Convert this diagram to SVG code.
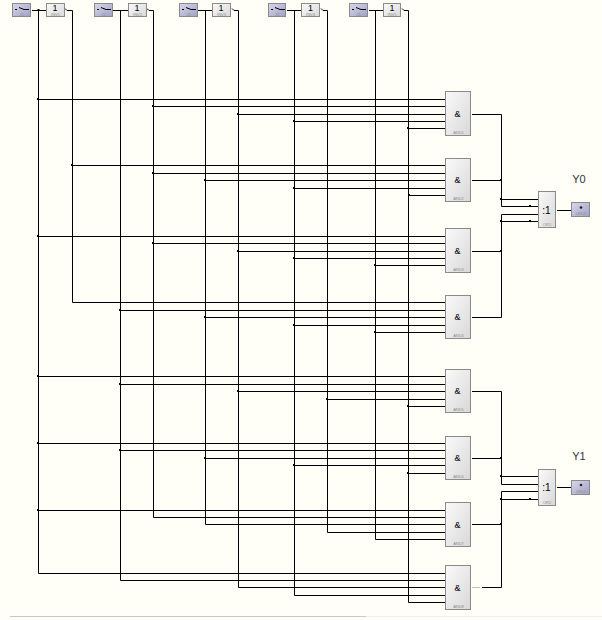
<svg xmlns="http://www.w3.org/2000/svg" width="602" height="620" viewBox="0 0 602 620">
<style>
.w{fill:none;stroke:#000;stroke-width:1}
.d{fill:#000}
.b{stroke:#8a8a8a;stroke-width:1}
.g{fill:url(#gate)}
.s{fill:url(#sw)}
.t{font-family:"Liberation Sans",Arial,sans-serif;fill:#000;text-anchor:middle}
.m{font-size:9px}
.i{font-size:9px}
.o{font-size:10px}
.n{font-family:"Liberation Sans",Arial,sans-serif;font-size:4px;fill:#8c8c8c;text-anchor:middle}
.y{font-size:11px;fill:#333}
.k{fill:none;stroke:#000;stroke-width:1}
</style>
<defs>
<linearGradient id="gate" x1="0" y1="0" x2="1" y2="1"><stop offset="0" stop-color="#fafafa"/><stop offset="1" stop-color="#d8d8d8"/></linearGradient>
<linearGradient id="sw" x1="0" y1="0" x2="1" y2="1"><stop offset="0" stop-color="#d8d8ea"/><stop offset="1" stop-color="#a0a0c6"/></linearGradient>
<rect id="j" class="d" x="-1" y="-1.5" width="2" height="2"/>
</defs>
<rect width="602" height="620" fill="#fffff8"/>
<rect x="10" y="616" width="356" height="1" fill="#c8c8c8"/>
<rect x="366" y="616" width="236" height="1" fill="#f0f0ea"/>
<g id="connectors">
<path id="net-a" class="w" d="M32 10.5H46M38.5 10.5V573.5H445M38.5 99.500H445M38.5 236.5H445M38.5 376.5H445M38.5 443.5H445M38.5 510.5H445"/>
<path id="net-na" class="w" d="M65 8.5L67 10.5H72.5V302.5H445M72.5 165.5H445"/>
<path id="net-b" class="w" d="M113 10.5H128M120.5 10.5V580.5H445M120.5 310.5H445M120.5 384.5H445M120.5 450.5H445"/>
<path id="net-nb" class="w" d="M147 8.5L149 10.5H153.5V517.5H445M153.5 106.5H445M153.5 173.5H445M153.5 243.5H445"/>
<path id="net-c" class="w" d="M198 10.5H212M205.5 10.5V524.5H445M205.5 180.5H445M205.5 317.5H445M205.5 458.5H445"/>
<path id="net-nc" class="w" d="M232 8.5L234 10.5H238.5V587.5H445M238.5 114.5H445M238.5 251.5H445M238.5 391.5H445"/>
<path id="net-d" class="w" d="M287 10.5H301M294.5 10.5V595.5H445M294.5 121.5H445M294.5 188.5H445M294.5 258.5H445M294.5 325.5H445M294.5 465.5H445"/>
<path id="net-nd" class="w" d="M321 8.5L323 10.5H327.5V532.5H445M327.5 399.5H445"/>
<path id="net-e" class="w" d="M369 10.5H383M375.5 10.5V539.5H445M375.5 265.5H445M375.5 332.5H445"/>
<path id="net-ne" class="w" d="M402 8.5L404 10.5H408.5V602.5H445M408.5 128.5H445M408.5 195.5H445M408.5 406.5H445M408.5 473.5H445"/>
<path id="out-y0" class="w" d="M472 114.5H501.5V206.5H538M472 180.5H501.5M501.5 199.5H538M501.5 214.5H538M501.5 214.5V317.5H472M472 251.5H501.5M501.5 221.5H538M557 210.5H571"/>
<path id="out-y1" class="w" d="M472 391.5H501.5V484.5H538M472 458.5H501.5M501.5 476.5H538M501.5 491.5H538M501.5 491.5V587.5H482M472 524.5H501.5M501.5 499.5H538M557 487.5H571"/>
<path id="out-and8-stub" d="M472 587.5H480" fill="none" stroke="#c0c0c0" stroke-width="1"/>
<g id="junctions">
<use href="#j" x="38.5" y="10.5"/><use href="#j" x="38" y="99.5"/><use href="#j" x="153" y="106.5"/><use href="#j" x="238" y="114.5"/><use href="#j" x="294" y="121.5"/>
<use href="#j" x="408" y="128.5"/><use href="#j" x="72" y="165.5"/><use href="#j" x="153" y="173.5"/><use href="#j" x="205" y="180.5"/><use href="#j" x="294" y="188.5"/><use href="#j" x="409" y="195.5"/>
<use href="#j" x="38" y="236.5"/><use href="#j" x="153" y="243.5"/><use href="#j" x="238" y="251.5"/><use href="#j" x="294" y="258.5"/><use href="#j" x="375" y="265.5"/>
<use href="#j" x="120" y="310.5"/><use href="#j" x="205" y="317.5"/><use href="#j" x="294" y="325.5"/><use href="#j" x="375" y="332.5"/>
<use href="#j" x="38" y="376.5"/><use href="#j" x="120" y="384.5"/><use href="#j" x="238" y="391.5"/><use href="#j" x="327" y="399.5"/><use href="#j" x="408" y="406.5"/>
<use href="#j" x="38" y="443.5"/><use href="#j" x="120" y="450.5"/><use href="#j" x="205" y="458.5"/><use href="#j" x="294" y="465.5"/><use href="#j" x="408" y="473.5"/><use href="#j" x="38" y="510.5"/>
<use href="#j" x="501" y="180.5"/><use href="#j" x="501" y="199.5"/><use href="#j" x="530" y="206.5"/><use href="#j" x="501" y="221.5"/><use href="#j" x="530" y="221.5"/><use href="#j" x="501" y="251.5"/>
<use href="#j" x="501" y="458.5"/><use href="#j" x="501" y="476.5"/><use href="#j" x="501" y="499.5"/><use href="#j" x="530" y="499.5"/><use href="#j" x="501" y="524.5"/>
</g>
</g>
<g id="J1"><rect class="s b" x="12.5" y="3.5" width="18" height="13"/><path class="k" d="M15 9.5h2M19 7.500l5 2h5"/><text class="n" x="21.5" y="15.5">J1</text></g>
<g id="INV1"><rect class="g b" x="46.5" y="3.5" width="18" height="13"/><text class="t i" x="55" y="11">1</text><text class="n" x="55.5" y="15.5">INV1</text></g>
<g id="J2"><rect class="s b" x="94.5" y="3.5" width="18" height="13"/><path class="k" d="M97 9.500h2M101 7.500l5 2h5"/><text class="n" x="103.5" y="15.5">J2</text></g>
<g id="INV2"><rect class="g b" x="128.5" y="3.5" width="18" height="13"/><text class="t i" x="137" y="11">1</text><text class="n" x="137.5" y="15.5">INV2</text></g>
<g id="J3"><rect class="s b" x="179.5" y="3.5" width="18" height="13"/><path class="k" d="M182 9.500h2M186 7.500l5 2h5"/><text class="n" x="188.5" y="15.5">J3</text></g>
<g id="INV3"><rect class="g b" x="212.5" y="3.5" width="18" height="13"/><text class="t i" x="221" y="11">1</text><text class="n" x="221.5" y="15.5">INV3</text></g>
<g id="J4"><rect class="s b" x="268.5" y="3.5" width="17" height="13"/><path class="k" d="M271 9.500h2M275 7.500l5 2h5"/><text class="n" x="277" y="15.5">J4</text></g>
<g id="INV4"><rect class="g b" x="301.5" y="3.5" width="18" height="13"/><text class="t i" x="310.5" y="11">1</text><text class="n" x="310.5" y="15.5">INV4</text></g>
<g id="J5"><rect class="s b" x="349.5" y="3.5" width="18" height="13"/><path class="k" d="M352 9.500h2M356 7.500l5 2h5"/><text class="n" x="358.5" y="15.5">J5</text></g>
<g id="INV5"><rect class="g b" x="383.5" y="3.5" width="17" height="13"/><text class="t i" x="392" y="11">1</text><text class="n" x="392" y="15.5">INV5</text></g>
<g id="AND1"><rect class="g b" x="445.5" y="91.5" width="25" height="44"/><text class="t m" x="457.5" y="116.5">&amp;</text><text class="n" x="458.5" y="133.5">AND1</text></g>
<g id="AND2"><rect class="g b" x="445.5" y="158.5" width="25" height="43"/><text class="t m" x="457.5" y="183">&amp;</text><text class="n" x="458.5" y="200">AND2</text></g>
<g id="AND3"><rect class="g b" x="445.5" y="228.5" width="25" height="44"/><text class="t m" x="457.5" y="253.5">&amp;</text><text class="n" x="458.5" y="270.5">AND3</text></g>
<g id="AND4"><rect class="g b" x="445.5" y="295.5" width="25" height="43"/><text class="t m" x="457.5" y="320">&amp;</text><text class="n" x="458.5" y="337">AND4</text></g>
<g id="AND5"><rect class="g b" x="445.5" y="369.5" width="25" height="43"/><text class="t m" x="457.5" y="394">&amp;</text><text class="n" x="458.5" y="411">AND5</text></g>
<g id="AND6"><rect class="g b" x="445.5" y="436.5" width="25" height="43"/><text class="t m" x="457.5" y="461">&amp;</text><text class="n" x="458.5" y="478">AND6</text></g>
<g id="AND7"><rect class="g b" x="445.5" y="502.5" width="25" height="44"/><text class="t m" x="457.5" y="527.5">&amp;</text><text class="n" x="458.5" y="544.5">AND7</text></g>
<g id="AND8"><rect class="g b" x="445.5" y="565.5" width="25" height="44"/><text class="t m" x="457.5" y="590.5">&amp;</text><text class="n" x="458.5" y="607.5">AND8</text></g>
<g id="OR1"><rect class="g b" x="538.5" y="191.5" width="17" height="36"/><text class="t o" x="546.5" y="213.5">:1</text><text class="n" x="547" y="226">OR1</text></g>
<g id="OR2"><rect class="g b" x="538.5" y="469.5" width="17" height="36"/><text class="t o" x="546.5" y="491">:1</text><text class="n" x="547" y="504">OR2</text></g>
<g id="LED1"><rect class="s b" x="571.5" y="202.5" width="18" height="14"/><circle cx="581" cy="207.5" r="1.3" fill="#222"/><text class="n" x="581" y="215">LED1</text></g>
<g id="LED2"><rect class="s b" x="571.5" y="480.5" width="18" height="14"/><circle cx="581" cy="485" r="1.3" fill="#222"/><text class="n" x="581" y="493">LED2</text></g>
<text class="t y" x="579" y="183">Y0</text>
<text class="t y" x="579" y="460">Y1</text>
</svg>
